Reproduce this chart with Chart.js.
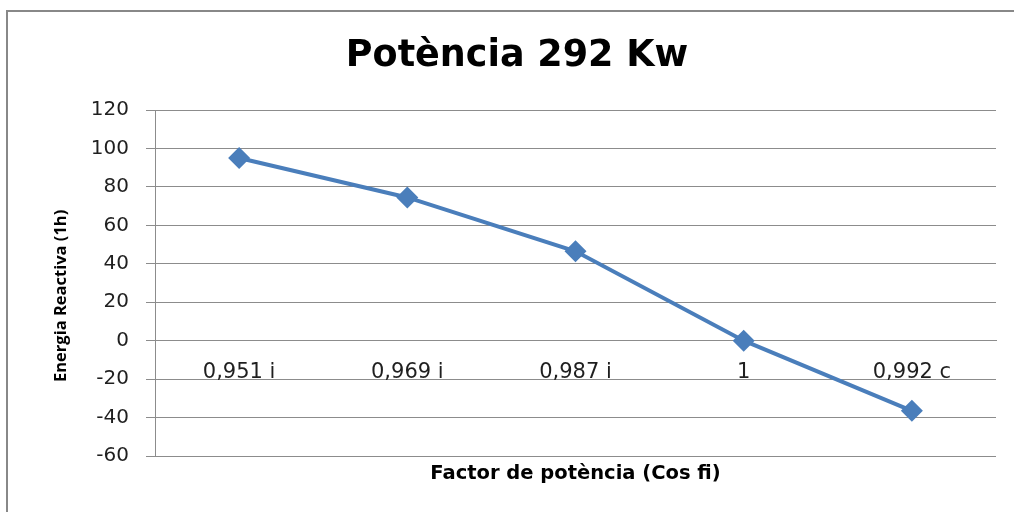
<!DOCTYPE html>
<html>
<head>
<meta charset="utf-8">
<script src="https://cdn.jsdelivr.net/npm/chart.js@4"></script>
<style>
  html, body { margin: 0; padding: 0; background: #fff; }
  #wrap { width: 1014px; height: 512px; }
</style>
</head>
<body>
<div id="wrap"><canvas id="chart" width="1014" height="512"></canvas></div>
<script>
// Data
const categories = ["0,951 i", "0,969 i", "0,987 i", "1", "0,992 c"];
const reactiveEnergy = [95, 74.5, 46.5, 0, -36.5];
const yMin = -60;
const yMax = 120;
const yStep = 20;

const gridColor = "#8c8c8c";
const lineBlue = "#4a7ebb";

// frame round the chart (Excel chart border)
const framePlugin = {
  id: "frame",
  beforeDraw(chart) {
    const ctx = chart.ctx;
    ctx.save();
    ctx.strokeStyle = "#888";
    ctx.lineWidth = 2;
    ctx.strokeRect(7, 11, 1100, 600);
    ctx.restore();
  },
};

const ctx = document.getElementById("chart").getContext("2d");
new Chart(ctx, {
  type: "line",
  data: {
    labels: categories,
    datasets: [
      {
        label: "Energia Reactiva",
        data: reactiveEnergy,
        borderColor: lineBlue,
        backgroundColor: lineBlue,
        borderWidth: 4,
        tension: 0,
        pointStyle: "rectRot",
        pointRadius: 11,
        pointBackgroundColor: lineBlue,
        pointBorderWidth: 0,
      },
    ],
  },
  options: {
    responsive: false,
    animation: false,
    layout: { padding: { left: 38, right: 18, top: 0, bottom: 0 } },
    plugins: {
      legend: { display: false },
      tooltip: { enabled: false },
      title: {
        display: true,
        text: "Potència 292 Kw",
        color: "#000",
        font: { family: "DejaVu Sans", size: 36.5, weight: "bold" },
        padding: { top: 35, bottom: 31.2 },
      },
      subtitle: {
        display: true,
        position: "bottom",
        fullSize: false,
        text: "Factor de potència (Cos fi)",
        color: "#000",
        font: { family: "DejaVu Sans", size: 19.5, weight: "bold" },
        padding: { top: 6, bottom: 26.6 },
      },
    },
    scales: {
      x: {
        position: { y: 0 },
        offset: true,
        grid: { display: false, drawTicks: false },
        border: { display: true, color: gridColor, width: 1 },
        ticks: {
          color: "#1f1f1f",
          padding: 19,
          maxRotation: 0,
          font: { family: "DejaVu Sans", size: 21 },
        },
        afterFit: (s) => {
          s.height = 0;
        },
      },
      y: {
        min: yMin,
        max: yMax,
        grid: { color: gridColor, tickLength: 9, drawTicks: true },
        border: { display: true, color: gridColor },
        ticks: {
          stepSize: yStep,
          color: "#1f1f1f",
          padding: 17,
          font: { family: "DejaVu Sans", size: 20 },
        },
        title: {
          display: true,
          // trailing spaces nudge the rotated text down a little, like Excel's
          text: "Energia Reactiva (1h)      ",
          color: "#000",
          font: { family: "Open Sans", size: 16.5, weight: "bold" },
          padding: { top: 13, bottom: 0 },
        },
        afterFit: (s) => {
          s.width = 117;
        },
      },
    },
  },
  plugins: [framePlugin],
});
</script>
</body>
</html>
